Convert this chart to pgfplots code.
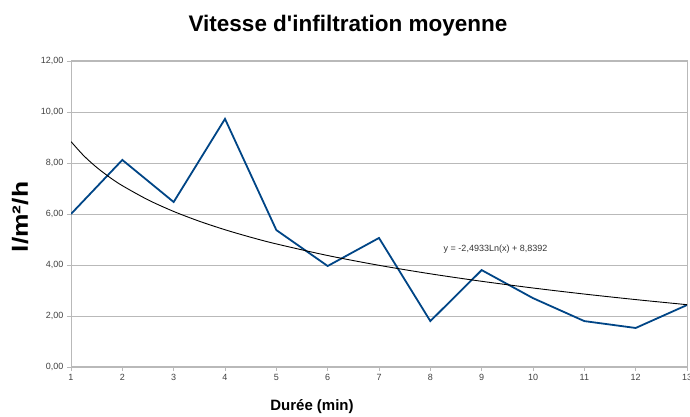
\documentclass[border=0pt]{standalone}
\usepackage{pgfplots}
\pgfplotsset{compat=1.18}
\usepackage{fontspec}
\setmainfont{Liberation Sans}
\definecolor{serieblue}{RGB}{0,69,134}
\definecolor{gridgray}{RGB}{185,185,185}
\begin{document}
\begin{tikzpicture}
\path[use as bounding box] (0pt,0pt) rectangle (690pt,417pt);
\node[font=\bfseries\fontsize{22.5}{24}\selectfont, anchor=base] at (348pt,385pt) {Vitesse d\textquotesingle infiltration moyenne};
\node[font=\bfseries\fontsize{22}{24}\selectfont, rotate=90] at (20pt,200pt) {\scalebox{1.2}[1]{l/m²/h}};
\node[font=\bfseries\fontsize{15}{17}\selectfont] at (312pt,10pt) {Durée (min)};
\begin{axis}[
  at={(71pt,50pt)}, anchor=south west,
  scale only axis, width=616pt, height=306pt,
  xmin=1, xmax=13, ymin=0, ymax=12,
  xtick={1,...,13}, ytick={0,2,...,12},
  axis line style={gridgray, line width=1pt},
  ymajorgrids, grid style={gridgray, line width=0.8pt},
  tick style={gridgray, line width=0.8pt},
  tick align=outside, major tick length=4pt,
  xtick pos=bottom, ytick pos=left,
  ticklabel style={font=\fontsize{9}{10}\selectfont, text=black!75},
  /pgf/number format/assume math mode=true,
  yticklabel style={/pgf/number format/.cd, fixed, fixed zerofill, precision=2, use comma},
  xticklabel style={/pgf/number format/.cd, fixed, precision=0},
  xticklabel shift=0pt,
]
\addplot[serieblue, line width=1.8pt, mark=none] coordinates {
(1,6.00) (2,8.12) (3,6.47) (4,9.73) (5,5.37) (6,3.96) (7,5.06)
(8,1.80) (9,3.80) (10,2.70) (11,1.80) (12,1.53) (13,2.43)
};
\addplot[black, line width=0.9pt, mark=none, smooth] coordinates {
(1,8.8392) (1.25,8.2828) (1.5,7.8283) (1.75,7.4439) (2,7.1110) (2.5,6.5546)
(3,6.1000) (3.5,5.7157) (4,5.3828) (4.5,5.0891) (5,4.8264) (6,4.3718) (7,3.9875)
(8,3.6545) (9,3.3609) (10,3.0982) (11,2.8605) (12,2.6436) (13,2.4440)
};
\node[font=\fontsize{9}{10}\selectfont, text=black!80] at (axis cs:9.27,4.63) {y = -2,4933Ln(x) + 8,8392};
\end{axis}
\end{tikzpicture}
\end{document}
